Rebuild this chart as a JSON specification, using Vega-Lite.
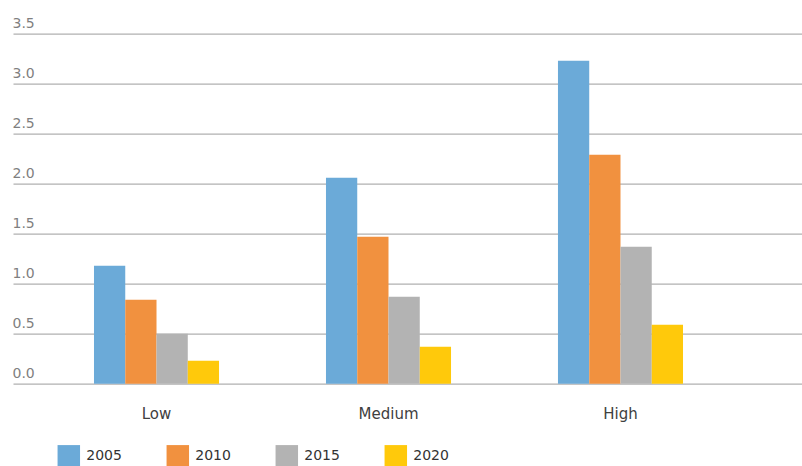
{
  "$schema": "https://vega.github.io/schema/vega-lite/v6.json",
  "width": 789,
  "height": 350,
  "autosize": {"type": "none"},
  "padding": {"left": 13, "top": 33.7, "right": 0, "bottom": 82.3},
  "background": "white",
  "config": {"view": {"stroke": null}, "font": "DejaVu Sans"},
  "data": {
    "values": [
      {"level": "Low", "year": "2005", "value": 1.18},
      {"level": "Low", "year": "2010", "value": 0.84},
      {"level": "Low", "year": "2015", "value": 0.50},
      {"level": "Low", "year": "2020", "value": 0.23},
      {"level": "Medium", "year": "2005", "value": 2.06},
      {"level": "Medium", "year": "2010", "value": 1.47},
      {"level": "Medium", "year": "2015", "value": 0.87},
      {"level": "Medium", "year": "2020", "value": 0.37},
      {"level": "High", "year": "2005", "value": 3.23},
      {"level": "High", "year": "2010", "value": 2.29},
      {"level": "High", "year": "2015", "value": 1.37},
      {"level": "High", "year": "2020", "value": 0.59}
    ]
  },
  "mark": {"type": "bar"},
  "encoding": {
    "x": {
      "field": "level",
      "type": "nominal",
      "sort": ["Low", "Medium", "High"],
      "scale": {"paddingInner": 0.461, "paddingOuter": 0.431, "align": 0.405},
      "axis": {
        "title": null,
        "domain": false,
        "ticks": false,
        "labelAngle": 0,
        "labelFontSize": 15,
        "labelColor": "#404040",
        "labelBaseline": "alphabetic",
        "labelPadding": 35
      }
    },
    "xOffset": {
      "field": "year",
      "type": "nominal",
      "scale": {"paddingInner": 0, "paddingOuter": 0}
    },
    "y": {
      "field": "value",
      "type": "quantitative",
      "scale": {"domain": [0, 3.5], "nice": false},
      "axis": {
        "title": null,
        "values": [0, 0.5, 1, 1.5, 2, 2.5, 3, 3.5],
        "format": ".1f",
        "domain": false,
        "ticks": false,
        "labelAlign": "left",
        "labelPadding": 1,
        "labelBaseline": "alphabetic",
        "labelOffset": -6.5,
        "labelFontSize": 14,
        "labelColor": "#7f7f7f",
        "labelFlush": false,
        "labelOverlap": false,
        "gridColor": "#b0b0b0",
        "gridWidth": 1.2
      }
    },
    "color": {
      "field": "year",
      "type": "nominal",
      "scale": {
        "domain": ["2005", "2010", "2015", "2020"],
        "range": ["#6BAAD8", "#F1913F", "#B3B3B3", "#FFC90B"]
      },
      "legend": {
        "title": null,
        "orient": "none",
        "legendX": 44.3,
        "legendY": 411,
        "direction": "horizontal",
        "symbolType": "square",
        "symbolSize": 506,
        "symbolStrokeWidth": 0,
        "symbolOpacity": 1,
        "labelFontSize": 14,
        "labelColor": "#333333",
        "labelOffset": 6,
        "columnPadding": 44
      }
    }
  }
}
